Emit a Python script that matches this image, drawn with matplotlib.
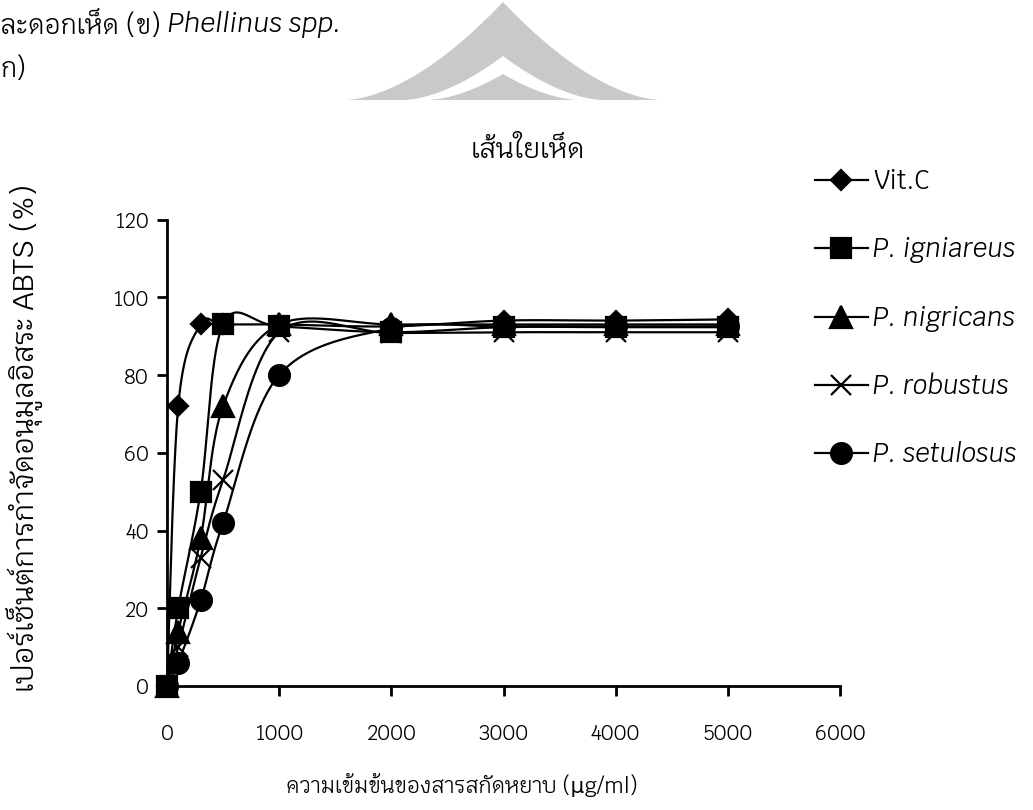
import numpy as np
import matplotlib
matplotlib.use("Agg")
import matplotlib.pyplot as plt
from matplotlib.patches import Polygon

# concentration of crude extract (ug/ml) and ABTS scavenging (%)
CONC = [0, 100, 300, 500, 1000, 2000, 3000, 4000, 5000]
VITC = [0, 72, 93, 93, 93, 92.5, 94, 94, 94.3]
IGNIAREUS = [0, 20, 50, 93, 92.5, 91, 92.3, 92.3, 92.3]
NIGRICANS = [0, 14, 38, 72, 93, 93, 93, 93, 93]
ROBUSTUS = [0, 10, 33, 53, 91, 90.8, 91, 91, 91]
SETULOSUS = [0, 6, 22, 42, 80, 92, 92.5, 92.5, 92.5]

SERIES = [VITC, IGNIAREUS, NIGRICANS, ROBUSTUS, SETULOSUS]
LABELS = ["Vit.C", "P. igniareus", "P. nigricans", "P. robustus", "P. setulosus"]
MARKERS = ["D", "s", "^", "x", "o"]
MARKER_SIZES = [10.5, 15, 15.5, 15, 15]

X_TICKS = [0, 1000, 2000, 3000, 4000, 5000, 6000]
Y_TICKS = [0, 20, 40, 60, 80, 100, 120]


def smooth(xs, ys, n=40):
    # cubic bezier through the points, excel style tangents
    p = np.column_stack([xs, ys]).astype(float)
    out = [p[0]]
    t = np.linspace(0, 1, n + 1)[1:, None]
    for i in range(len(p) - 1):
        p0 = p[max(i - 1, 0)]
        p1, p2 = p[i], p[i + 1]
        p3 = p[min(i + 2, len(p) - 1)]
        c1 = p1 + (p2 - p0) / 6
        c2 = p2 - (p3 - p1) / 6
        seg = (1 - t) ** 3 * p1 + 3 * (1 - t) ** 2 * t * c1 + 3 * (1 - t) * t ** 2 * c2 + t ** 3 * p2
        out.extend(seg)
    return np.array(out)


plt.rcParams["font.family"] = ["Krub", "DejaVu Sans"]

W, H = 1033, 810
fig = plt.figure(figsize=(W / 100, H / 100), dpi=100)
ax = fig.add_axes([167 / W, 1 - 686 / H, (840 - 167) / W, (686 - 219.5) / H])


def px(x, y):
    return (x / W, 1 - y / H)


# roof watermark behind the header
s = np.linspace(0, 1, 40)
for top, half, col in [(2, 158, "#c9c9c9"), (56, 100, "white"), (74, 76, "#c9c9c9")]:
    pts = [px(503 - half * u, top + (100 - top) * (1 - (1 - u) ** 1.7)) for u in s]
    pts += [px(503 + half * u, top + (100 - top) * (1 - (1 - u) ** 1.7)) for u in s[::-1]]
    fig.patches.append(Polygon(pts, closed=True, transform=fig.transFigure, color=col, lw=0, zorder=0))

for ys, lab, m, ms in zip(SERIES, LABELS, MARKERS, MARKER_SIZES):
    curve = smooth(CONC, ys)
    ax.plot(curve[:, 0], curve[:, 1], color="black", lw=1.6, marker=m, ms=ms,
            markevery=list(range(0, len(curve), 40)), mew=1.6, mfc="black", mec="black",
            label=lab, clip_on=False)

ax.set_xlim(0, 6000)
ax.set_ylim(0, 120)
ax.set_xticks(X_TICKS)
ax.set_yticks(Y_TICKS)
for side in ["top", "right"]:
    ax.spines[side].set_visible(False)
for side in ["left", "bottom"]:
    ax.spines[side].set_linewidth(2)
ax.tick_params(axis="both", direction="out", length=7, width=2, labelsize=15)
ax.tick_params(axis="x", pad=20)
ax.tick_params(axis="y", pad=6)

leg = fig.legend(loc="center left", bbox_to_anchor=px(815, 318), frameon=False,
                 fontsize=18.5, handlelength=2.05, handletextpad=0.2, labelspacing=1.6,
                 borderpad=0, borderaxespad=0, numpoints=1)
for txt in leg.get_texts()[1:]:
    txt.set_style("italic")

fig.text(*px(528, 150), "เส้นใยเห็ด", fontsize=20, ha="center", va="center")
fig.text(*px(462, 785), "ความเข้มข้นของสารสกัดหยาบ (µg/ml)", fontsize=15.5, ha="center", va="center")
fig.text(*px(24, 438), "เปอร์เซ็นต์การกำจัดอนุมูลอิสระ ABTS (%)", fontsize=21,
         ha="center", va="center", rotation=90)

head = fig.text(*px(0, 25), "ละดอกเห็ด (ข) ", fontsize=19, ha="left", va="center")
ax.annotate("Phellinus spp.", xy=(1, 0.5), xycoords=head, va="center", ha="left",
            fontsize=19, style="italic")
fig.text(*px(0, 70), "ก)", fontsize=19, ha="left", va="center")

fig.savefig("out.png", dpi=100)
